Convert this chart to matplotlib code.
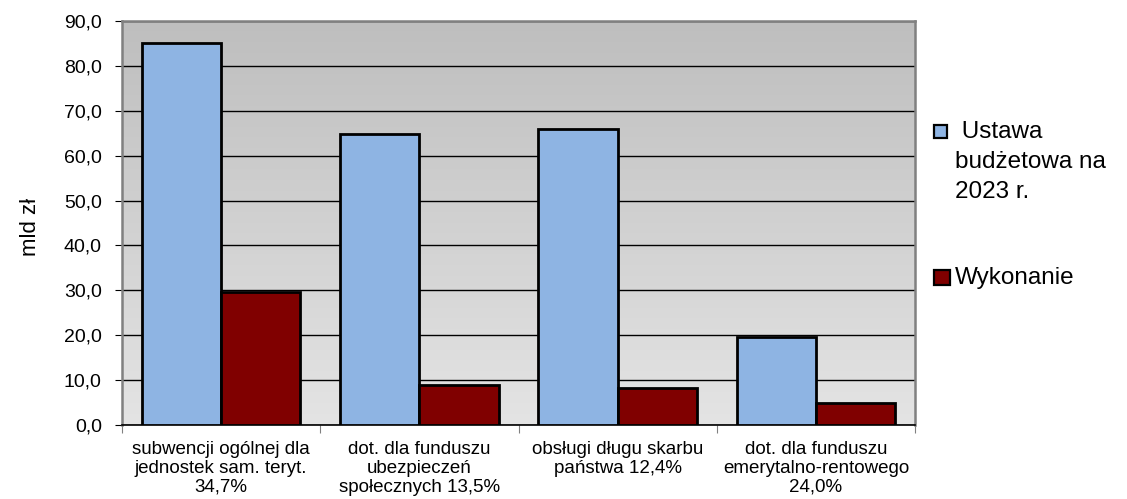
import numpy as np
import matplotlib
matplotlib.use("Agg")
import matplotlib.pyplot as plt
from matplotlib.patches import Rectangle

plt.rcParams['font.family'] = ['Liberation Sans', 'DejaVu Sans']

categories = [
    "subwencji ogólnej dla\njednostek sam. teryt.\n34,7%",
    "dot. dla funduszu\nubezpieczeń\nspołecznych 13,5%",
    "obsługi długu skarbu\npaństwa 12,4%",
    "dot. dla funduszu\nemerytalno-rentowego\n24,0%",
]
ustawa = [85.2, 64.8, 65.9, 19.7]
wykonanie = [29.6, 8.8, 8.3, 5.0]
series_names = [" Ustawa\nbudżetowa na\n2023 r.", "Wykonanie"]
colors = ["#8eb4e3", "#800000"]

W, H = 1127, 499
fig = plt.figure(figsize=(W / 100, H / 100), dpi=100)
ax = fig.add_axes([122 / W, 1 - 425 / H, (915 - 122) / W, (425 - 21) / H])

# gradient background
grad = np.linspace(0, 1, 256).reshape(-1, 1)
cmap = matplotlib.colors.LinearSegmentedColormap.from_list("bg", ["#e4e4e4", "#bebebe"])
ax.imshow(grad, aspect="auto", cmap=cmap, origin="lower",
          extent=[0, 1, 0, 1], transform=ax.transAxes, zorder=0)

x = np.arange(len(categories))
w = 0.4
ax.bar(x - w / 2, ustawa, w, color=colors[0], edgecolor="black", linewidth=2.0, zorder=3)
ax.bar(x + w / 2, wykonanie, w, color=colors[1], edgecolor="black", linewidth=2.0, zorder=3)

ax.set_xlim(-0.5, len(categories) - 0.5)
ax.set_ylim(0, 90)
yt = np.arange(0, 91, 10)
ax.set_yticks(yt)
ax.set_yticklabels([f"{v:.1f}".replace(".", ",") for v in yt], fontsize=14)
ax.yaxis.grid(True, color="black", linewidth=1.0, zorder=1)
ax.set_axisbelow(True)

ax.set_xticks(np.arange(-0.5, len(categories)))
ax.set_xticklabels([])
ax.tick_params(axis="x", length=6, color="#808080", direction="out")
ax.tick_params(axis="y", length=5, color="black", direction="out", pad=9.5)
for i, lab in enumerate(categories):
    ax.text(i, -3.5, lab, ha="center", va="top", fontsize=13.5, linespacing=1.15)

for s in ax.spines.values():
    s.set_color("#808080")
    s.set_linewidth(1.8)
ax.spines["bottom"].set_color("black")
ax.spines["bottom"].set_linewidth(1.2)

fig.text(30 / W, 1 - 227 / H, "mld zł", rotation=90, fontsize=16, ha="center", va="center")

# legend
fig.patches.append(Rectangle((934 / W, 1 - 138 / H), 13 / W, 13 / H,
                             transform=fig.transFigure, facecolor=colors[0],
                             edgecolor="black", linewidth=1.6))
for i, line in enumerate(series_names[0].split("\n")):
    fig.text(955 / W, 1 - (132 + 30 * i) / H, line, fontsize=17.5, va="center", ha="left")
fig.patches.append(Rectangle((934 / W, 1 - 285 / H), 16 / W, 15 / H,
                             transform=fig.transFigure, facecolor=colors[1],
                             edgecolor="black", linewidth=1.6))
fig.text(955 / W, 1 - 278 / H, series_names[1], fontsize=17.5, va="center", ha="left")

fig.savefig("out.png", dpi=100)
